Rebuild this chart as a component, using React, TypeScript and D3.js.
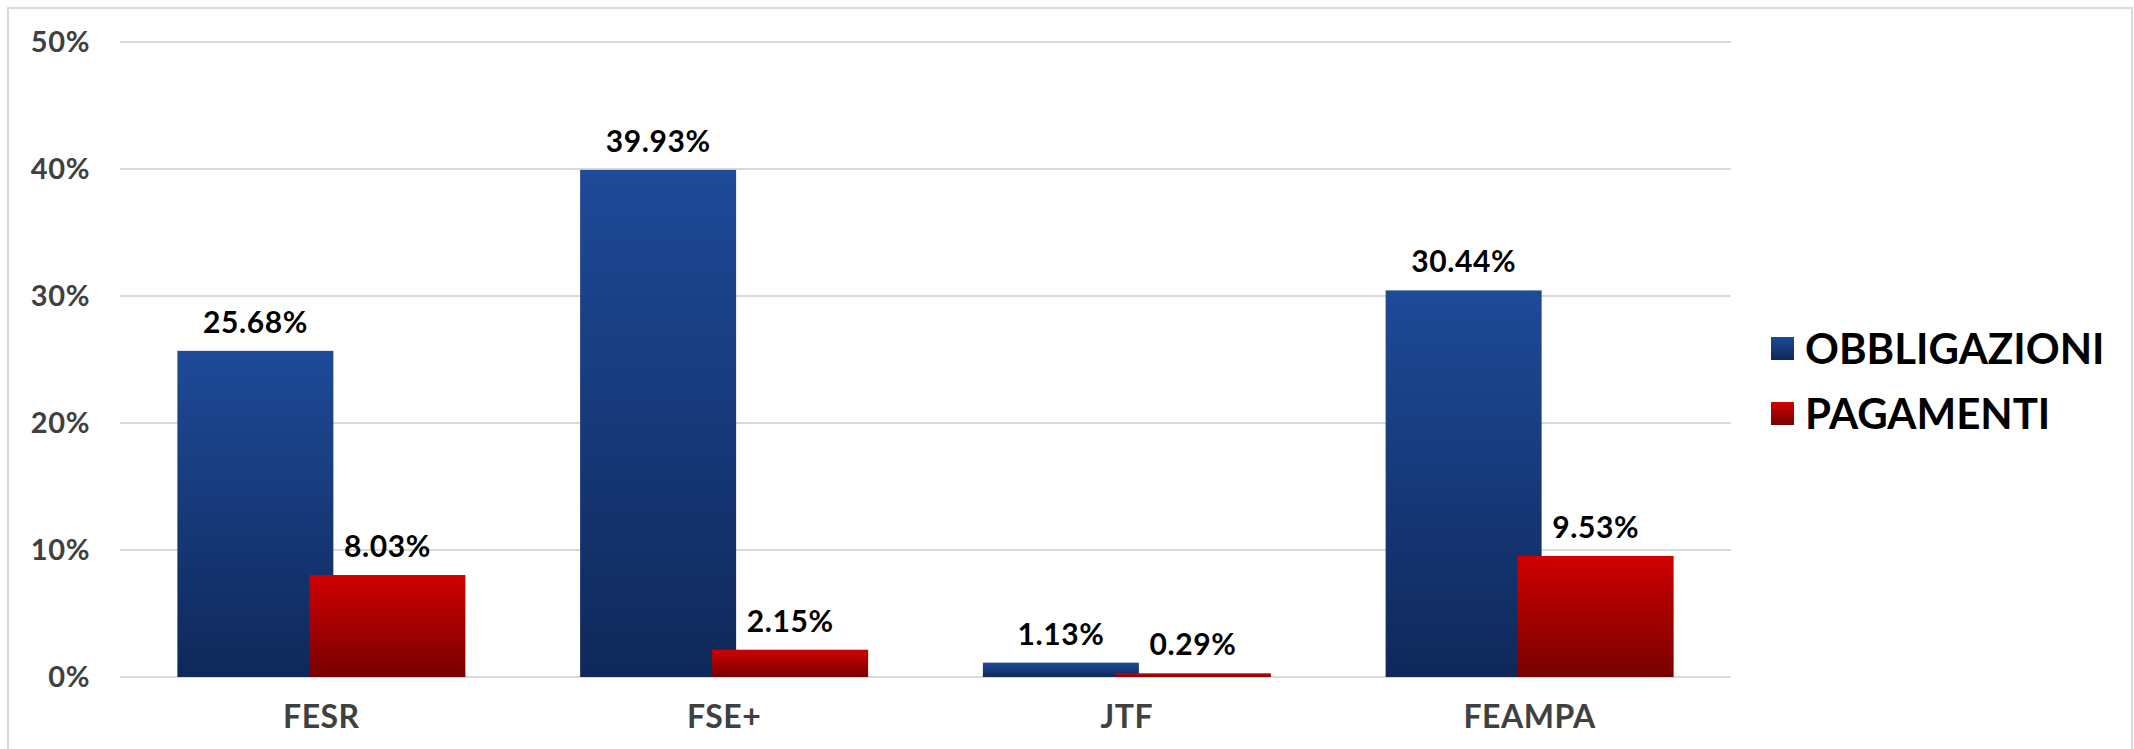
import React from "react";
import * as d3 from "d3";

const categories = ["FESR", "FSE+", "JTF", "FEAMPA"];
const seriesNames = ["OBBLIGAZIONI", "PAGAMENTI"];
const obbligazioni = [25.68, 39.93, 1.13, 30.44];
const pagamenti = [8.03, 2.15, 0.29, 9.53];
const yTicks = [0, 10, 20, 30, 40, 50];

const W = 2134;
const H = 749;
const plotLeft = 120;
const plotRight = 1731;
const plotTop = 42;
const plotBottom = 677;
const barW = 156;
const overlap = 24;
const FONT = "Lato, 'Open Sans', sans-serif";

export default function App() {
  const x = d3.scaleBand<string>().domain(categories).range([plotLeft, plotRight]).padding(0);
  const y = d3.scaleLinear().domain([0, 50]).range([plotBottom, plotTop]);
  const series = [
    { name: seriesNames[0], values: obbligazioni, grad: "gBlue" },
    { name: seriesNames[1], values: pagamenti, grad: "gRed" },
  ];
  const groupW = barW * 2 - overlap;
  const fmt = (v: number) => v.toFixed(2) + "%";

  return (
    <svg
      width={W}
      height={H}
      style={{ position: "absolute", left: 0, top: 0, background: "#fff" }}
      fontFamily={FONT}
    >
      <defs>
        <linearGradient id="gBlue" x1="0" y1="0" x2="0" y2="1">
          <stop offset="0" stopColor="#1e4a98" />
          <stop offset="1" stopColor="#0f285a" />
        </linearGradient>
        <linearGradient id="gRed" x1="0" y1="0" x2="0" y2="1">
          <stop offset="0" stopColor="#d00000" />
          <stop offset="1" stopColor="#780000" />
        </linearGradient>
      </defs>
      <rect x={8} y={8} width={2124} height={800} fill="#fff" stroke="#d9d9d9" strokeWidth={2} />
      {yTicks.map((t) => (
        <g key={t}>
          <line x1={plotLeft} x2={plotRight} y1={y(t)} y2={y(t)} stroke="#d9d9d9" strokeWidth={2} />
          <text
            x={90}
            y={y(t)}
            dy="0.36em"
            textAnchor="end"
            fontSize={29}
            fontWeight={700}
            letterSpacing={0.6}
            fill="#404040"
          >
            {t}%
          </text>
        </g>
      ))}
      {categories.map((c, i) => {
        const cx = (x(c) as number) + x.bandwidth() / 2;
        const start = cx - groupW / 2;
        return (
          <g key={c}>
            {series.map((s, si) => {
              const bx = start + si * (barW - overlap);
              const v = s.values[i];
              return (
                <rect
                  key={s.name}
                  x={bx}
                  y={y(v)}
                  width={barW}
                  height={y(0) - y(v)}
                  fill={`url(#${s.grad})`}
                />
              );
            })}
            {series.map((s, si) => {
              const bx = start + si * (barW - overlap);
              const v = s.values[i];
              return (
                <text
                  key={s.name + "l"}
                  x={bx + barW / 2}
                  y={y(v) - 18}
                  textAnchor="middle"
                  fontSize={30}
                  fontWeight={700}
                  letterSpacing={0.6}
                  fill="#000"
                >
                  {fmt(v)}
                </text>
              );
            })}
            <text
              x={cx}
              y={728}
              textAnchor="middle"
              fontSize={32}
              fontWeight={700}
              letterSpacing={0.5}
              fill="#404040"
            >
              {c}
            </text>
          </g>
        );
      })}
      {series.map((s, si) => (
        <g key={s.name} transform={`translate(1771, ${337 + si * 65})`}>
          <rect x={0} y={0} width={23} height={23} fill={`url(#${s.grad})`} />
          <text x={34} y={11.5} dy="0.36em" fontSize={42} fontWeight={700} fill="#000">
            {s.name}
          </text>
        </g>
      ))}
    </svg>
  );
}
